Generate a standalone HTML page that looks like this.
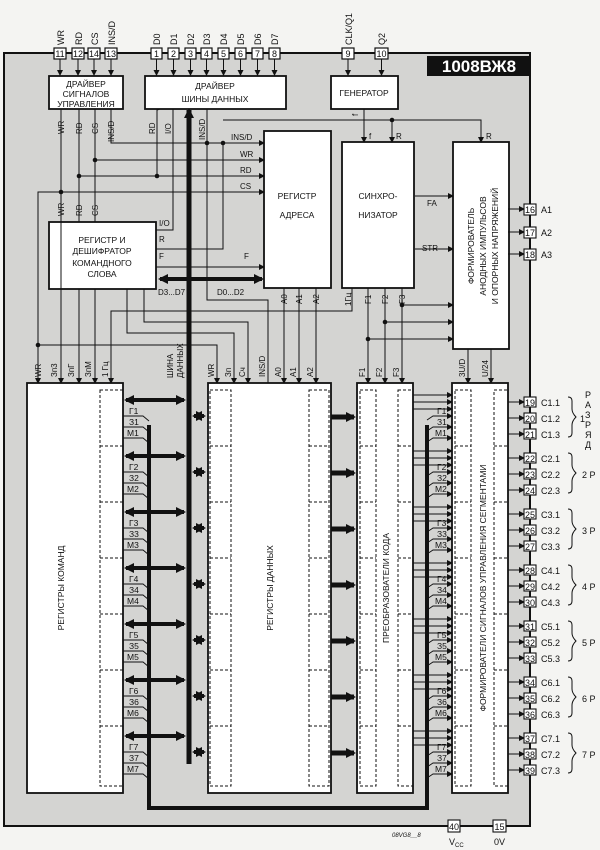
<!DOCTYPE html>
<html><head><meta charset="utf-8"><style>
html,body{margin:0;padding:0;background:#f4f4f2;}
svg{display:block;}
text{font-family:"Liberation Sans","DejaVu Sans",sans-serif;fill:#111;}
</style></head><body>
<svg width="600" height="850" viewBox="0 0 600 850" xmlns="http://www.w3.org/2000/svg">
<defs>
<marker id="a" markerWidth="6" markerHeight="6" refX="5" refY="3" orient="auto" markerUnits="userSpaceOnUse"><path d="M0,0 L6,3 L0,6z" fill="#111"/></marker>
<marker id="b" markerWidth="10" markerHeight="10" refX="8" refY="5" orient="auto" markerUnits="userSpaceOnUse"><path d="M0,0 L10,5 L0,10z" fill="#111"/></marker>
<marker id="bs" markerWidth="10" markerHeight="10" refX="2" refY="5" orient="auto" markerUnits="userSpaceOnUse"><path d="M10,0 L0,5 L10,10z" fill="#111"/></marker>
</defs>
<!-- chip -->
<rect x="4" y="53" width="526" height="773" fill="#d4d4d2" stroke="#111" stroke-width="2"/>
<rect x="427" y="56" width="104" height="20" fill="#111"/>
<text x="479" y="72" font-size="17" font-weight="bold" text-anchor="middle" style="fill:#fff">1008ВЖ8</text>

<g stroke="#111" stroke-width="1.2" fill="#fff">
<!-- top pins -->
<rect x="54" y="48" width="12" height="11"/><rect x="72" y="48" width="12" height="11"/><rect x="88" y="48" width="12" height="11"/><rect x="105" y="48" width="12" height="11"/>
<rect x="151" y="48" width="11" height="11"/><rect x="168" y="48" width="11" height="11"/><rect x="185" y="48" width="11" height="11"/><rect x="201" y="48" width="11" height="11"/>
<rect x="218" y="48" width="11" height="11"/><rect x="235" y="48" width="11" height="11"/><rect x="252" y="48" width="11" height="11"/><rect x="269" y="48" width="11" height="11"/>
<rect x="342" y="48" width="12" height="11"/><rect x="375" y="48" width="13" height="11"/>
</g>
<g font-size="9" text-anchor="middle">
<text x="60" y="57">11</text><text x="78" y="57">12</text><text x="94" y="57">14</text><text x="111" y="57">13</text>
<text x="156.5" y="57">1</text><text x="173.5" y="57">2</text><text x="190.5" y="57">3</text><text x="206.5" y="57">4</text>
<text x="223.5" y="57">5</text><text x="240.5" y="57">6</text><text x="257.5" y="57">7</text><text x="274.5" y="57">8</text>
<text x="348" y="57">9</text><text x="381.5" y="57">10</text>
</g>
<g font-size="9">
<text transform="translate(64,45) rotate(-90)">WR</text>
<text transform="translate(82,45) rotate(-90)">RD</text>
<text transform="translate(98,45) rotate(-90)">CS</text>
<text transform="translate(115,45) rotate(-90)">INS/D</text>
<text transform="translate(160,45) rotate(-90)">D0</text><text transform="translate(177,45) rotate(-90)">D1</text>
<text transform="translate(194,45) rotate(-90)">D2</text><text transform="translate(210,45) rotate(-90)">D3</text>
<text transform="translate(227,45) rotate(-90)">D4</text><text transform="translate(244,45) rotate(-90)">D5</text>
<text transform="translate(261,45) rotate(-90)">D6</text><text transform="translate(278,45) rotate(-90)">D7</text>
<text transform="translate(352,45) rotate(-90)">CLK/Q1</text>
<text transform="translate(385,45) rotate(-90)">Q2</text>
</g>
<g stroke="#111" stroke-width="1.2">
<line x1="58" y1="40" x2="58" y2="41" /><line x1="66" y1="53" x2="72" y2="53"/><line x1="84" y1="53" x2="88" y2="53"/><line x1="100" y1="53" x2="105" y2="53"/>
<line x1="162" y1="53" x2="168" y2="53"/><line x1="179" y1="53" x2="185" y2="53"/><line x1="196" y1="53" x2="201" y2="53"/><line x1="212" y1="53" x2="218" y2="53"/>
<line x1="229" y1="53" x2="235" y2="53"/><line x1="246" y1="53" x2="252" y2="53"/><line x1="263" y1="53" x2="269" y2="53"/>
</g>
<!-- pin arrows down -->
<g stroke="#111" stroke-width="1" marker-end="url(#a)">
<line x1="60" y1="59" x2="60" y2="75"/><line x1="78" y1="59" x2="78" y2="75"/><line x1="94" y1="59" x2="94" y2="75"/><line x1="111" y1="59" x2="111" y2="75"/>
<line x1="156.5" y1="59" x2="156.5" y2="75"/><line x1="173.5" y1="59" x2="173.5" y2="75"/><line x1="190.5" y1="59" x2="190.5" y2="75"/><line x1="206.5" y1="59" x2="206.5" y2="75"/>
<line x1="223.5" y1="59" x2="223.5" y2="75"/><line x1="240.5" y1="59" x2="240.5" y2="75"/><line x1="257.5" y1="59" x2="257.5" y2="75"/><line x1="274.5" y1="59" x2="274.5" y2="75"/>
<line x1="348" y1="59" x2="348" y2="75"/><line x1="381.5" y1="59" x2="381.5" y2="75"/>
</g>

<!-- boxes top -->
<g stroke="#111" stroke-width="1.8" fill="#fff">
<rect x="49" y="76" width="74" height="33"/>
<rect x="145" y="76" width="141" height="33"/>
<rect x="331" y="76" width="67" height="33"/>
<rect x="264" y="131" width="67" height="157"/>
<rect x="342" y="142" width="72" height="146"/>
<rect x="453" y="142" width="56" height="207"/>
<rect x="49" y="222" width="107" height="67"/>
</g>
<g font-size="8.5" text-anchor="middle">
<text x="86" y="87">ДРАЙВЕР</text><text x="86" y="97">СИГНАЛОВ</text><text x="86" y="107">УПРАВЛЕНИЯ</text>
<text x="215" y="89">ДРАЙВЕР</text><text x="215" y="102">ШИНЫ ДАННЫХ</text>
<text x="364" y="96">ГЕНЕРАТОР</text>
<text x="297" y="199">РЕГИСТР</text><text x="297" y="218">АДРЕСА</text>
<text x="378" y="199">СИНХРО-</text><text x="378" y="218">НИЗАТОР</text>
<text x="102" y="243">РЕГИСТР И</text><text x="102" y="254">ДЕШИФРАТОР</text><text x="102" y="266">КОМАНДНОГО</text><text x="102" y="277">СЛОВА</text>
<text transform="translate(474,246) rotate(-90)">ФОРМИРОВАТЕЛЬ</text>
<text transform="translate(486,246) rotate(-90)">АНОДНЫХ ИМПУЛЬСОВ</text>
<text transform="translate(498,246) rotate(-90)">И ОПОРНЫХ НАПРЯЖЕНИЙ</text>
</g>

<!-- control wiring -->
<g stroke="#111" stroke-width="1" fill="none">
<path d="M61,109 V383"/><path d="M79,109 V222"/><path d="M95,109 V222"/>
<path d="M111,109 V143 H264" marker-end="url(#a)"/>
<path d="M95,160 H264" marker-end="url(#a)"/>
<path d="M79,176 H264" marker-end="url(#a)"/>
<path d="M38,383 V192 H264" marker-end="url(#a)"/>
<path d="M157,109 V176"/><path d="M173,109 V230 H156"/><path d="M207,109 V300 H268 V383"/>
<path d="M223,143 V249 H156"/>
<path d="M223,120 H481 V142" marker-end="url(#a)"/>
<path d="M392,120 V142" marker-end="url(#a)"/>
<path d="M364,109 V142" marker-end="url(#a)"/>
<path d="M156,267 H264" marker-end="url(#a)"/>
<path d="M415,196 H453" marker-end="url(#a)"/>
<path d="M415,249 H453" marker-end="url(#a)"/>
</g>
<g stroke="#111" stroke-width="1" marker-end="url(#a)" fill="none">
<path d="M160,109 L157,110" marker-end="none"/>
</g>
<g fill="#111">
<circle cx="95" cy="160" r="2.3"/><circle cx="79" cy="176" r="2.3"/><circle cx="61" cy="192" r="2.3"/>
<circle cx="157" cy="176" r="2.3"/><circle cx="207" cy="143" r="2.3"/><circle cx="223" cy="143" r="2.3"/><circle cx="392" cy="120" r="2.3"/>
<circle cx="38" cy="345" r="2.3"/><circle cx="402" cy="305" r="2.3"/><circle cx="385" cy="322" r="2.3"/><circle cx="368" cy="339" r="2.3"/>
</g>
<g font-size="8">
<text transform="translate(64,134) rotate(-90)">WR</text><text transform="translate(82,134) rotate(-90)">RD</text>
<text transform="translate(98,134) rotate(-90)">CS</text><text transform="translate(114,142) rotate(-90)">INS/D</text>
<text transform="translate(64,216) rotate(-90)">WR</text><text transform="translate(82,216) rotate(-90)">RD</text><text transform="translate(98,216) rotate(-90)">CS</text>
<text transform="translate(155,134) rotate(-90)">RD</text><text transform="translate(171,134) rotate(-90)">I/O</text>
<text transform="translate(205,140) rotate(-90)">INS/D</text>
<text x="231" y="140">INS/D</text><text x="240" y="157">WR</text><text x="240" y="173">RD</text><text x="240" y="189">CS</text>
<text x="159" y="226">I/O</text><text x="159" y="242">R</text><text x="159" y="259">F</text><text x="244" y="259">F</text>
<text x="369" y="139">f</text><text x="396" y="139">R</text><text x="486" y="139">R</text>
<text x="427" y="206">FA</text><text x="422" y="251">STR</text>
<text x="158" y="295">D3...D7</text><text x="217" y="295">D0...D2</text>
<text transform="translate(358,116) rotate(-90)">f</text>
</g>

<!-- data bus -->
<rect x="186.5" y="110" width="5" height="654" fill="#111"/>
<line x1="189" y1="120" x2="189" y2="110" stroke="#111" stroke-width="5" marker-end="url(#b)"/>
<line x1="160" y1="279" x2="262" y2="279" stroke="#111" stroke-width="4" marker-end="url(#b)" marker-start="url(#bs)"/>

<!-- address/sync outputs -->
<g stroke="#111" stroke-width="1" fill="none">
<path d="M284,288 V383" marker-end="url(#a)"/><path d="M299,288 V383" marker-end="url(#a)"/><path d="M316,288 V383" marker-end="url(#a)"/>
<path d="M352,288 V311 H111 V383" marker-end="url(#a)"/>
<path d="M368,288 V383" marker-end="url(#a)"/><path d="M385,288 V383" marker-end="url(#a)"/><path d="M402,288 V383" marker-end="url(#a)"/>
<path d="M402,305 H453" marker-end="url(#a)"/><path d="M385,322 H453" marker-end="url(#a)"/><path d="M368,339 H453" marker-end="url(#a)"/>
<path d="M468,349 V383" marker-end="url(#a)"/><path d="M491,349 V383" marker-end="url(#a)"/>
<path d="M61,222 V383" marker-end="url(#a)"/>
<path d="M79,289 V383" marker-end="url(#a)"/><path d="M95,289 V383" marker-end="url(#a)"/>
<path d="M38,380 V383" marker-end="url(#a)"/>
<path d="M38,345 H217 V383" marker-end="url(#a)"/>
<path d="M127,289 V333 H234 V383" marker-end="url(#a)"/>
<path d="M144,289 V322 H248 V383" marker-end="url(#a)"/>
</g>
<g font-size="8">
<text transform="translate(287,304) rotate(-90)">A0</text><text transform="translate(302,304) rotate(-90)">A1</text><text transform="translate(319,304) rotate(-90)">A2</text>
<text transform="translate(351,306) rotate(-90)">1Гц</text><text transform="translate(371,304) rotate(-90)">F1</text><text transform="translate(388,304) rotate(-90)">F2</text><text transform="translate(405,304) rotate(-90)">F3</text>
<text transform="translate(41,377) rotate(-90)">WR</text><text transform="translate(57,377) rotate(-90)">Зп3</text><text transform="translate(74,377) rotate(-90)">ЗпГ</text><text transform="translate(91,377) rotate(-90)">ЗпМ</text><text transform="translate(108,377) rotate(-90)">1 Гц</text>
<text transform="translate(173,378) rotate(-90)">ШИНА</text><text transform="translate(183,378) rotate(-90)">ДАННЫХ</text>
<text transform="translate(214,377) rotate(-90)">WR</text><text transform="translate(231,377) rotate(-90)">Зп</text><text transform="translate(245,377) rotate(-90)">Сч</text><text transform="translate(265,377) rotate(-90)">INS/D</text>
<text transform="translate(281,377) rotate(-90)">A0</text><text transform="translate(296,377) rotate(-90)">A1</text><text transform="translate(313,377) rotate(-90)">A2</text>
<text transform="translate(365,377) rotate(-90)">F1</text><text transform="translate(382,377) rotate(-90)">F2</text><text transform="translate(399,377) rotate(-90)">F3</text>
<text transform="translate(465,377) rotate(-90)">3U/D</text><text transform="translate(488,377) rotate(-90)">U/24</text>
</g>

<!-- lower blocks -->
<g stroke="#111" stroke-width="1.8" fill="#fff">
<rect x="27" y="383" width="96" height="410"/>
<rect x="208" y="383" width="123" height="410"/>
<rect x="357" y="383" width="56" height="410"/>
<rect x="452" y="383" width="56" height="410"/>
</g>
<g stroke="#111" stroke-width="1" stroke-dasharray="3,2" fill="none">
<rect x="100" y="390" width="23" height="396"/>
<rect x="210" y="390" width="21" height="396"/><rect x="309" y="390" width="20" height="396"/>
<rect x="360" y="390" width="16" height="396"/><rect x="398" y="390" width="15" height="396"/>
<rect x="455" y="390" width="16" height="396"/><rect x="494" y="390" width="14" height="396"/>
<path d="M100,446H123M100,502H123M100,558H123M100,614H123M100,670H123M100,726H123"/>
<path d="M210,446H231M210,502H231M210,558H231M210,614H231M210,670H231M210,726H231"/>
<path d="M309,446H329M309,502H329M309,558H329M309,614H329M309,670H329M309,726H329"/>
<path d="M360,446H376M360,502H376M360,558H376M360,614H376M360,670H376M360,726H376"/>
<path d="M398,446H413M398,502H413M398,558H413M398,614H413M398,670H413M398,726H413"/>
<path d="M455,446H471M455,502H471M455,558H471M455,614H471M455,670H471M455,726H471"/>
<path d="M494,446H508M494,502H508M494,558H508M494,614H508M494,670H508M494,726H508"/>
</g>
<g font-size="8.5" text-anchor="middle">
<text transform="translate(64,588) rotate(-90)">РЕГИСТРЫ КОМАНД</text>
<text transform="translate(273,588) rotate(-90)">РЕГИСТРЫ ДАННЫХ</text>
<text transform="translate(389,588) rotate(-90)">ПРЕОБРАЗОВАТЕЛИ КОДА</text>
<text transform="translate(486,588) rotate(-90)">ФОРМИРОВАТЕЛИ СИГНАЛОВ УПРАВЛЕНИЯ СЕГМЕНТАМИ</text>
</g>

<!-- loop bus -->
<path d="M149,425 V808 H427 V425" stroke="#111" stroke-width="4" fill="none"/>

<!-- repeated groups -->
<g id="grp">
<line x1="126" y1="400" x2="184" y2="400" stroke="#111" stroke-width="4" marker-end="url(#b)" marker-start="url(#bs)"/>
<line x1="194" y1="416" x2="204" y2="416" stroke="#111" stroke-width="4" marker-end="url(#b)" marker-start="url(#bs)"/>
<line x1="331" y1="417" x2="354" y2="417" stroke="#111" stroke-width="5" marker-end="url(#b)"/>
<g stroke="#111" stroke-width="0.9" fill="none">
<path d="M123,416 H143 L149,421"/><path d="M123,427 H143 L149,432"/><path d="M123,438 H143 L149,443"/>
<path d="M413,395 H452" marker-end="url(#a)"/><path d="M413,402 H452" marker-end="url(#a)"/><path d="M413,409 H452" marker-end="url(#a)"/>
<path d="M427,420 L433,416 H452" marker-end="url(#a)"/><path d="M427,431 L433,427 H452" marker-end="url(#a)"/><path d="M427,442 L433,438 H452" marker-end="url(#a)"/>
</g>
</g>
<use href="#grp" y="56"/><use href="#grp" y="112"/><use href="#grp" y="168"/><use href="#grp" y="224"/><use href="#grp" y="280"/><use href="#grp" y="336"/>
<g font-size="8.5">
<text x="129" y="414">Г1</text><text x="129" y="425">З1</text><text x="127" y="436">М1</text>
<text x="129" y="470">Г2</text><text x="129" y="481">З2</text><text x="127" y="492">М2</text>
<text x="129" y="526">Г3</text><text x="129" y="537">З3</text><text x="127" y="548">М3</text>
<text x="129" y="582">Г4</text><text x="129" y="593">З4</text><text x="127" y="604">М4</text>
<text x="129" y="638">Г5</text><text x="129" y="649">З5</text><text x="127" y="660">М5</text>
<text x="129" y="694">Г6</text><text x="129" y="705">З6</text><text x="127" y="716">М6</text>
<text x="129" y="750">Г7</text><text x="129" y="761">З7</text><text x="127" y="772">М7</text>
<text x="437" y="414">Г1</text><text x="437" y="425">З1</text><text x="435" y="436">М1</text>
<text x="437" y="470">Г2</text><text x="437" y="481">З2</text><text x="435" y="492">М2</text>
<text x="437" y="526">Г3</text><text x="437" y="537">З3</text><text x="435" y="548">М3</text>
<text x="437" y="582">Г4</text><text x="437" y="593">З4</text><text x="435" y="604">М4</text>
<text x="437" y="638">Г5</text><text x="437" y="649">З5</text><text x="435" y="660">М5</text>
<text x="437" y="694">Г6</text><text x="437" y="705">З6</text><text x="435" y="716">М6</text>
<text x="437" y="750">Г7</text><text x="437" y="761">З7</text><text x="435" y="772">М7</text>
</g>

<!-- right pins -->
<g id="rp">
<g stroke="#111" stroke-width="1" fill="none">
<path d="M508,402 H524" marker-end="url(#a)"/><path d="M508,418 H524" marker-end="url(#a)"/><path d="M508,434 H524" marker-end="url(#a)"/>
<path d="M568,397 q4,0 4,4 v8 q0,4 4,8 q-4,4 -4,8 v8 q0,4 -4,4"/>
</g>
<g stroke="#111" stroke-width="1.1" fill="#fff">
<rect x="524" y="397" width="12" height="10"/><rect x="524" y="413" width="12" height="10"/><rect x="524" y="429" width="12" height="10"/>
</g>
</g>
<use href="#rp" y="56"/><use href="#rp" y="112"/><use href="#rp" y="168"/><use href="#rp" y="224"/><use href="#rp" y="280"/><use href="#rp" y="336"/>
<g stroke="#111" stroke-width="1" fill="none">
<path d="M508,209 H524" marker-end="url(#a)"/><path d="M508,232 H524" marker-end="url(#a)"/><path d="M508,254 H524" marker-end="url(#a)"/>
</g>
<g stroke="#111" stroke-width="1.1" fill="#fff">
<rect x="524" y="204" width="12" height="11"/><rect x="524" y="227" width="12" height="11"/><rect x="524" y="249" width="12" height="11"/>
<rect x="448" y="820" width="12" height="12"/><rect x="493" y="820" width="13" height="12"/>
</g>
<g font-size="9" text-anchor="middle">
<text x="530" y="213">16</text><text x="530" y="236">17</text><text x="530" y="258">18</text>
<text x="530" y="406">19</text><text x="530" y="422">20</text><text x="530" y="438">21</text>
<text x="530" y="462">22</text><text x="530" y="478">23</text><text x="530" y="494">24</text>
<text x="530" y="518">25</text><text x="530" y="534">26</text><text x="530" y="550">27</text>
<text x="530" y="574">28</text><text x="530" y="590">29</text><text x="530" y="606">30</text>
<text x="530" y="630">31</text><text x="530" y="646">32</text><text x="530" y="662">33</text>
<text x="530" y="686">34</text><text x="530" y="702">35</text><text x="530" y="718">36</text>
<text x="530" y="742">37</text><text x="530" y="758">38</text><text x="530" y="774">39</text>
<text x="454" y="830">40</text><text x="499.5" y="830">15</text>
</g>
<g font-size="9">
<text x="541" y="213">A1</text><text x="541" y="236">A2</text><text x="541" y="258">A3</text>
<text x="541" y="406">C1.1</text><text x="541" y="422">C1.2</text><text x="541" y="438">C1.3</text>
<text x="541" y="462">C2.1</text><text x="541" y="478">C2.2</text><text x="541" y="494">C2.3</text>
<text x="541" y="518">C3.1</text><text x="541" y="534">C3.2</text><text x="541" y="550">C3.3</text>
<text x="541" y="574">C4.1</text><text x="541" y="590">C4.2</text><text x="541" y="606">C4.3</text>
<text x="541" y="630">C5.1</text><text x="541" y="646">C5.2</text><text x="541" y="662">C5.3</text>
<text x="541" y="686">C6.1</text><text x="541" y="702">C6.2</text><text x="541" y="718">C6.3</text>
<text x="541" y="742">C7.1</text><text x="541" y="758">C7.2</text><text x="541" y="774">C7.3</text>
<text x="580" y="422">1</text>
<text x="582" y="478">2 Р</text><text x="582" y="534">3 Р</text><text x="582" y="590">4 Р</text>
<text x="582" y="646">5 Р</text><text x="582" y="702">6 Р</text><text x="582" y="758">7 Р</text>
<text x="585" y="398">Р</text><text x="585" y="408">А</text><text x="585" y="418">З</text><text x="585" y="428">Р</text><text x="585" y="438">Я</text><text x="585" y="448">Д</text>
<text x="449" y="845">V<tspan font-size="6" dy="2">CC</tspan></text><text x="494" y="845">0V</text>
</g>
<text x="392" y="837" font-size="6" font-style="italic">08VG8__8</text>
</svg>
</body></html>
